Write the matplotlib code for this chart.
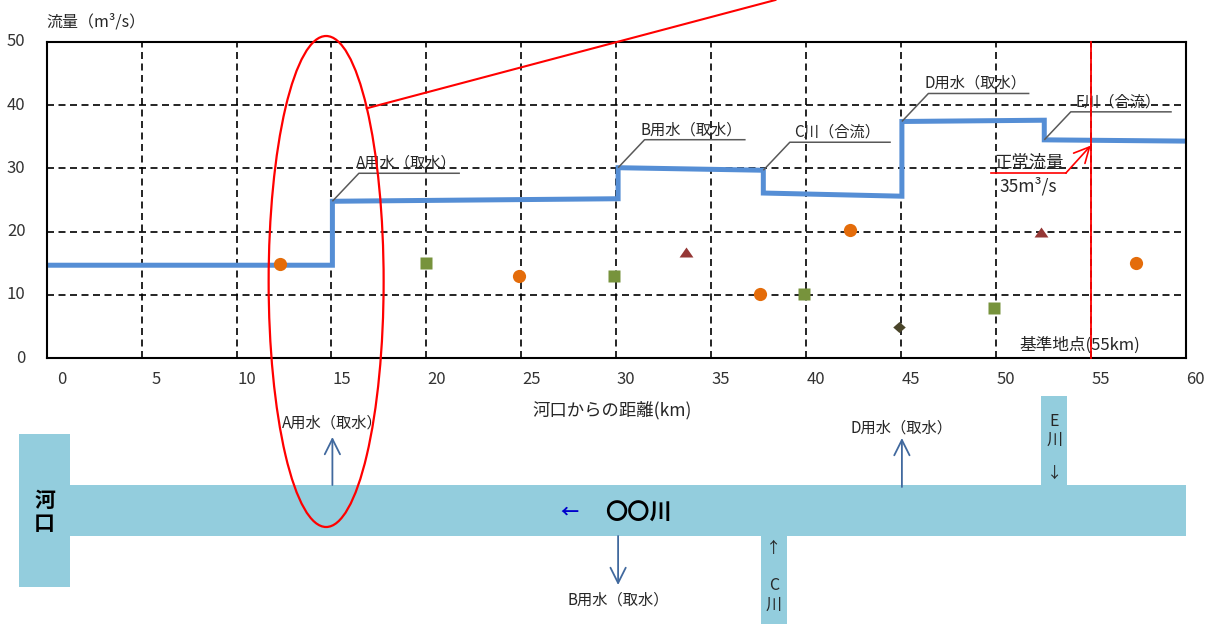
import matplotlib
matplotlib.use("Agg")
import matplotlib.pyplot as plt
from matplotlib.patches import Ellipse, Rectangle
import numpy as np

plt.rcParams['font.family'] = ['Noto Sans CJK JP', 'DejaVu Sans']

W, H, DPI = 1213, 629, 100

# Flow profile: section boundaries (km from the river mouth) and flow at each end of a section (m3/s)
section_km = [0, 15.05, 30.1, 37.75, 45.05, 52.55, 60]
flow_start = [14.7, 24.8, 30.1, 26.1, 37.4, 34.5]
flow_end = [14.7, 25.2, 29.7, 25.6, 37.6, 34.3]

# Observed flows
circle_km = [12.3, 24.9, 37.6, 42.3, 57.4]
circle_q = [14.9, 13.0, 10.1, 20.2, 15.1]
square_km = [20.0, 29.9, 39.9, 49.9]
square_q = [15.1, 13.0, 10.1, 8.0]
triangle_km = [33.7, 52.4]
triangle_q = [16.8, 20.0]
diamond_km = [44.9]
diamond_q = [4.9]

x_ticks = [0, 5, 10, 15, 20, 25, 30, 35, 40, 45, 50, 55, 60]
y_ticks = [0, 10, 20, 30, 40, 50]

# Withdrawals / confluences: label, boundary index, level the leader starts from
events = [
    ("A用水（取水）", 1, "after"),
    ("B用水（取水）", 2, "after"),
    ("C川（合流）", 3, "before"),
    ("D用水（取水）", 4, "after"),
    ("E川（合流）", 5, "after"),
]

base_km = 55
normal_flow = 35

BLUE = "#558ED5"
RIVER = "#93CDDD"
ARROW = "#41699E"
TXT = "#262626"

fig = plt.figure(figsize=(W / DPI, H / DPI), dpi=DPI)
L, R, T, B = 46.7, 1185.7, 41.7, 358.3
ax = fig.add_axes([L / W, 1 - B / H, (R - L) / W, (B - T) / H])
ax.set_xlim(0, 60)
ax.set_ylim(0, 50)
ax.set_xticks(x_ticks)
ax.set_yticks(y_ticks)
ax.tick_params(length=0, labelbottom=False, labelleft=False)
ax.grid(True, color="black", lw=1.2, linestyle=(0, (4.2, 2.7)), zorder=1)
ax.set_axisbelow(True)
for s in ax.spines.values():
    s.set_linewidth(1.5)
    s.set_color("black")
    s.set_zorder(6)

# overlay in image pixels (origin top-left)
ov = fig.add_axes([0, 0, 1, 1])
ov.set_xlim(0, W)
ov.set_ylim(H, 0)
ov.axis("off")
ov.patch.set_alpha(0)
ov.set_zorder(5)


def to_px(x, y=0.0):
    d = ax.transData.transform((x, y))
    return ov.transData.inverted().transform(d)


# flow profile line
xs, ys = [], []
for i in range(len(flow_start)):
    xs += [section_km[i], section_km[i + 1]]
    ys += [flow_start[i], flow_end[i]]
ax.plot(xs, ys, color=BLUE, lw=3.6, solid_joinstyle="miter", solid_capstyle="butt", zorder=3)

# observed points
tri = [(-1, -0.72), (1, -0.72), (0, 0.72)]
dia = [(0, 0.88), (1, 0), (0, -0.88), (-1, 0)]
ax.plot(circle_km, circle_q, "o", ms=9.5, color="#E46C0A", mec="none", zorder=4)
ax.plot(square_km, square_q, "s", ms=9, color="#77933C", mec="none", zorder=4)
ax.plot(triangle_km, triangle_q, marker=tri, ls="none", ms=10, color="#953735", mec="none", zorder=4)
ax.plot(diamond_km, diamond_q, marker=dia, ls="none", ms=9, color="#4A452A", mec="none", zorder=4)

# tick labels
for v in x_ticks:
    px, _ = to_px(v, 0)
    off = 15 if v < 10 else 10
    ov.text(px + off, 380, str(v), ha="center", va="center", fontsize=12, color="#333333")
for v in y_ticks:
    _, py = to_px(0, v)
    ov.text(25.5, py, str(v), ha="right", va="center", fontsize=12, color="#333333")

ov.text(L, 21.7, "流量（m³/s）", ha="left", va="center", fontsize=11.5, color=TXT)
ov.text(612, 410, "河口からの距離(km)", ha="center", va="center", fontsize=12.5, color=TXT)

# leader labels for each event
for label, i, side in events:
    lvl = flow_start[i] if side == "after" else flow_end[i - 1]
    x0, y0 = to_px(section_km[i], lvl)
    cx, cy = x0 + 26.5, y0 - 28
    ov.plot([x0, cx, cx + 101], [y0, cy, cy], color="#595959", lw=1.1, solid_capstyle="butt")
    ov.text(cx + 47, cy - 10, label, ha="center", va="center", fontsize=11, color=TXT)

# reference point line and label
bx, btop = to_px(base_km, 50)
_, bbot = to_px(base_km, 0)
ov.plot([bx, bx], [btop, bbot], color="red", lw=1.3, zorder=7)
ov.text(bx - 11, 345, "基準地点(55km)", ha="center", va="center", fontsize=12, color=TXT)

# normal flow callout
q_base = np.interp(base_km, xs[-2:], ys[-2:])
tx, ty = to_px(base_km, q_base)
ty += 5.3
kx, ky = tx - 25, ty + 27.6
ov.plot([kx - 75, kx], [ky, ky], color="red", lw=1.2, zorder=7)
ov.annotate("", xy=(tx, ty), xytext=(kx, ky),
            arrowprops=dict(arrowstyle="->,head_length=1.0,head_width=0.5", color="red", lw=1.2,
                            shrinkA=0, shrinkB=0, mutation_scale=11), zorder=7)
ov.text(kx - 36.6, ky - 10, "正常流量", ha="center", va="center", fontsize=12.5, color=TXT, zorder=6)
ov.text(kx - 38, ky + 13.4, f"{normal_flow}m³/s", ha="center", va="center", fontsize=12.5, color=TXT, zorder=6)

# schematic of the river
band_top, band_bot = 485, 536
right_px, _ = to_px(60, 0)
ov.add_patch(Rectangle((19, 434), 51, 152.7, color=RIVER, lw=0))
ov.add_patch(Rectangle((70, band_top), right_px - 70, band_bot - band_top, color=RIVER, lw=0))
ov.text(44.5, 500, "河", ha="center", va="center", fontsize=15, fontweight="bold", color="black")
ov.text(44.5, 524, "口", ha="center", va="center", fontsize=15, fontweight="bold", color="black")
ov.text(569, 512, "←", ha="center", va="center", fontsize=13, fontweight="bold", color="#0000CC")
ov.text(638, 513, "〇〇川", ha="center", va="center", fontsize=16, fontweight="bold", color="black")

# tributaries
cx0, _ = to_px(section_km[3], 0)
ov.add_patch(Rectangle((cx0 - 2.5, band_bot), 26, 88, color=RIVER, lw=0))
ov.text(cx0 + 10.5, 548, "↑", ha="center", va="center", fontsize=11, color=TXT)
ov.text(cx0 + 10.5, 585, "C", ha="center", va="center", fontsize=11.5, color=TXT)
ov.text(cx0 + 10.5, 605, "川", ha="center", va="center", fontsize=11.5, color=TXT)
ex0, _ = to_px(section_km[5], 0)
ov.add_patch(Rectangle((ex0 - 3, 395.7), 26, band_top - 395.7, color=RIVER, lw=0))
ov.text(ex0 + 10, 421, "E", ha="center", va="center", fontsize=11.5, color=TXT)
ov.text(ex0 + 10, 440, "川", ha="center", va="center", fontsize=11.5, color=TXT)
ov.text(ex0 + 10, 473, "↓", ha="center", va="center", fontsize=11, color=TXT)

# withdrawals
arrow_kw = dict(arrowstyle="->,head_length=1.1,head_width=0.55", color=ARROW, lw=1.3,
                shrinkA=0, shrinkB=0, mutation_scale=10)
for km_i, y_from, y_to, y_lab, lab in [
    (section_km[1], band_top, 437, 423, "A用水（取水）"),
    (section_km[2], band_bot, 585, 600, "B用水（取水）"),
    (section_km[4], band_top + 2, 438, 428, "D用水（取水）"),
]:
    px, _ = to_px(km_i, 0)
    ov.annotate("", xy=(px, y_to), xytext=(px, y_from), arrowprops=arrow_kw)
    ov.text(px, y_lab, lab, ha="center", va="center", fontsize=11, color=TXT)

# highlight around the A withdrawal
ex_c, _ = to_px(14.72, 0)
ov.add_patch(Ellipse((ex_c, 281.5), 115, 491, fill=False, edgecolor="red", lw=1.6, zorder=8))
ov.plot([366.7, 366.7 + 108.3 / 0.265], [108.3, 0], color="red", lw=1.5, zorder=8)

fig.savefig("out.png", dpi=DPI)
